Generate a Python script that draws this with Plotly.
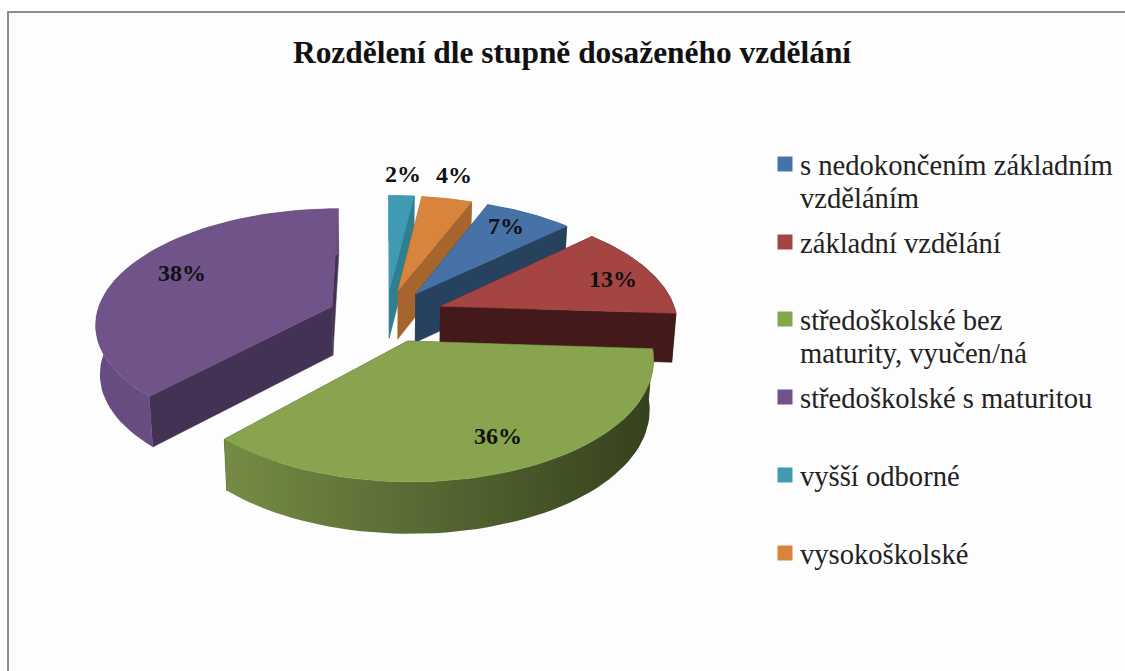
import numpy as np
import plotly.graph_objects as go

# hodnoty v procentech
categories = ['s nedokončením základním<br>vzděláním', 'základní vzdělání',
              'středoškolské bez<br>maturity, vyučen/ná', 'středoškolské s maturitou',
              'vyšší odborné', 'vysokoškolské']
values = [7, 13, 36, 38, 2, 4]
value_labels = ['7%', '13%', '36%', '38%', '2%', '4%']

top_colors = ['#4672A7', '#A54543', '#88A44F', '#6F5389', '#3F9BB3', '#D9843D']
wall_colors = ['#27425F', '#431A19', '#35401D', '#443254', '#2E7F90', '#A5652C']
# barevny prechod vnejsi steny zleva doprava
arc_colors = {'#88A44F': ['#758C45', '#35401D'], '#6F5389': ['#664C80', '#6A4F84']}

# parametry "3D" projekce (v pixelech)
CX, CY = 385, 315
R, K, P = 236, 0.482, 0.138
EXPLODE = 0.23
DEPTH = 49

# drobne posuny vysecí a popisku
nudge_x = [1, 5, 2, -3, 1, 0]
nudge_y = [0, 0, 1, 1, 0, 0]
label_dx = [9, 18, 3, -8, 0, -1]
label_dy = [-10, 0, -13, -5, -5, -8]

legend_y = [164, 242, 319, 397, 475, 553]
label_r = [0.7, 0.76, 0.86, 0.7, 1.2, 1.2]
FONT = 'Liberation Serif'

# poradi od vrcholu po smeru hodin, zacina "vyssi odborne"
order = [4, 5, 0, 1, 2, 3]
start = {}
a = 0
for i in order:
    start[i] = a
    a += values[i] * 3.6


def project(theta, r, mid, bottom=False):
    t, m = np.radians(theta), np.radians(mid)
    X = r * np.sin(t) + EXPLODE * np.sin(m)
    Y = -(r * np.cos(t) + EXPLODE * np.cos(m))
    s = 1 / (1 - P * Y)
    x = CX + R * X * s
    y = CY + R * K * Y * s
    if bottom:
        x = CX + (x - CX) * 0.985
        y = y + DEPTH * (1 + 0.05 * Y)
    return x, y


def wall(thetas, rs, mid):
    xt, yt = project(thetas, rs, mid)
    xb, yb = project(thetas, rs, mid, bottom=True)
    return list(xt) + list(xb[::-1]) + [xt[0]], list(yt) + list(yb[::-1]) + [yt[0]]


def poly(x, y, color, gradient=None, i=0):
    x = [v + nudge_x[i] for v in x]
    y = [v + nudge_y[i] for v in y]
    kw = dict(x=x, y=y, mode='lines', fill='toself', hoverinfo='skip', showlegend=False)
    if gradient:
        kw['line'] = dict(width=0)
        kw['fillgradient'] = dict(type='horizontal', colorscale=[[0, gradient[0]], [1, gradient[1]]])
    else:
        kw['line'] = dict(width=0.5, color=color)
        kw['fillcolor'] = color
    return go.Scatter(**kw)


fig = go.Figure()

# zezadu dopredu
for i in [4, 5, 0, 3, 1, 2]:
    th0 = start[i]
    th1 = th0 + values[i] * 3.6
    mid = (th0 + th1) / 2
    arc = np.linspace(th0, th1, 60)

    for th in (th1, th0):
        x, y = wall(np.array([th, th]), np.array([0.0, 1.0]), mid)
        fig.add_trace(poly(x, y, wall_colors[i], i=i))

    x, y = wall(arc, np.ones(60), mid)
    grad = arc_colors.get(top_colors[i])
    fig.add_trace(poly(x, y, wall_colors[i], grad, i=i))

    xa, ya = project(arc, np.ones(60), mid)
    x0, y0 = project(th0, 0.0, mid)
    fig.add_trace(poly([x0] + list(xa) + [x0], [y0] + list(ya) + [y0], top_colors[i], i=i))

# popisky hodnot
for i in range(len(values)):
    mid = start[i] + values[i] * 1.8
    lx, ly = project(mid, label_r[i], mid)
    fig.add_annotation(x=lx + label_dx[i], y=ly + label_dy[i], text='<b>%s</b>' % value_labels[i],
                       showarrow=False, font=dict(family=FONT, size=24, color='#111111'))

# legenda
for i, cat in enumerate(categories):
    fig.add_trace(go.Scatter(x=[785], y=[legend_y[i]], mode='markers', hoverinfo='skip',
                             marker=dict(symbol='square', size=15, color=top_colors[i]),
                             showlegend=False))
    for j, line in enumerate(cat.split('<br>')):
        fig.add_annotation(x=798, y=legend_y[i] + 1 + j * 33, text=line, showarrow=False,
                           xanchor='left', yanchor='middle',
                           font=dict(family=FONT, size=28.6, color='#222222'))

fig.add_annotation(x=572, y=52, text='<b>Rozdělení dle stupně dosaženého vzdělání</b>',
                   showarrow=False, font=dict(family=FONT, size=31.4, color='#111111'))

# ramecek grafu
fig.add_shape(type='rect', x0=8, y0=12, x1=1140, y1=690, layer='below',
              line=dict(color='#8C8C8C', width=2), fillcolor='#FDFDFD')

fig.update_xaxes(range=[0, 1125], visible=False, fixedrange=True)
fig.update_yaxes(range=[671, 0], visible=False, fixedrange=True)
fig.update_layout(width=1125, height=671, margin=dict(l=0, r=0, t=0, b=0),
                  paper_bgcolor='white', plot_bgcolor='white')

fig.write_html("out.html", post_script="document.body.style.margin='0';",
               config=dict(displayModeBar=False))
